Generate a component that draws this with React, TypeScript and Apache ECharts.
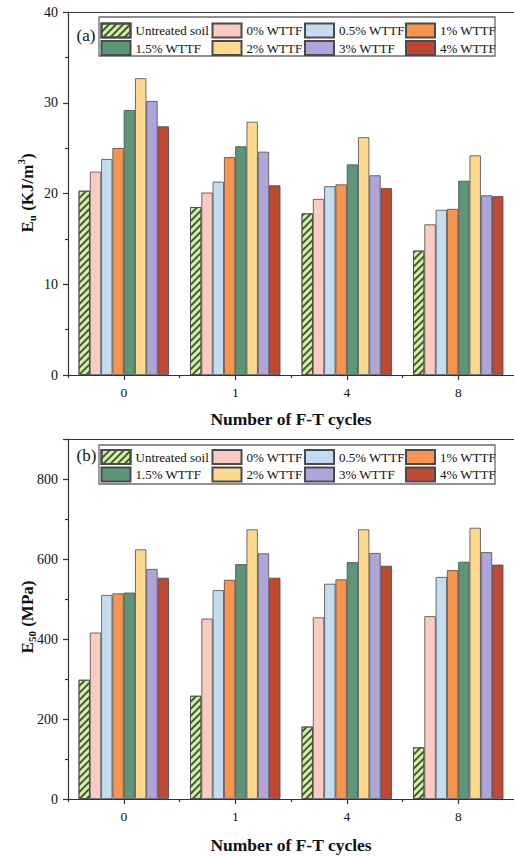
import React, { useEffect, useRef } from 'react';
import * as echarts from 'echarts';

const categories = ['0', '1', '4', '8'];
const seriesNames = [
  'Untreated soil', '0% WTTF', '0.5% WTTF', '1% WTTF',
  '1.5% WTTF', '2% WTTF', '3% WTTF', '4% WTTF',
];

// (a) Eu (KJ/m3)
const euUntreated = [20.3, 18.5, 17.8, 13.7];
const eu0 = [22.4, 20.1, 19.4, 16.6];
const eu05 = [23.8, 21.3, 20.8, 18.2];
const eu1 = [25.0, 24.0, 21.0, 18.3];
const eu15 = [29.2, 25.2, 23.2, 21.4];
const eu2 = [32.7, 27.9, 26.2, 24.2];
const eu3 = [30.2, 24.6, 22.0, 19.8];
const eu4 = [27.4, 20.9, 20.6, 19.7];

// (b) E50 (MPa)
const e50Untreated = [298, 258, 181, 129];
const e500 = [416, 451, 454, 457];
const e5005 = [510, 522, 538, 555];
const e501 = [514, 548, 549, 572];
const e5015 = [516, 587, 592, 593];
const e502 = [624, 674, 674, 678];
const e503 = [575, 614, 615, 617];
const e504 = [553, 553, 583, 586];

const euTicks = { min: 0, max: 40, interval: 10 };
const e50Ticks = { min: 0, max: 900, interval: 200 };

// y-axis titles: [text, kind] pieces (main / sub / sup)
const euTitle: [string, string][] = [['E', 'main'], ['u', 'sub'], [' (KJ/m', 'main'], ['3', 'sup'], [')', 'main']];
const e50Title: [string, string][] = [['E', 'main'], ['50', 'sub'], [' (MPa)', 'main']];

const euData = [euUntreated, eu0, eu05, eu1, eu15, eu2, eu3, eu4];
const e50Data = [e50Untreated, e500, e5005, e501, e5015, e502, e503, e504];

const colors = ['#d7edb2', '#f9cbc3', '#c4dcf0', '#f7944f', '#5e9579', '#fdd98e', '#afa5db', '#be4934'];

const FONT = "'Liberation Serif', 'Times New Roman', serif";
const AXIS_COLOR = '#333';
const TEXT_COLOR = '#111';

export default function App() {
  const ref = useRef<HTMLDivElement>(null);

  useEffect(() => {
    if (!ref.current) return;
    const chart = echarts.init(ref.current, undefined, { renderer: 'svg' });

    const hatch = {
      symbol: 'rect',
      symbolSize: 1,
      dashArrayX: [1, 0],
      dashArrayY: [2, 2.5],
      rotation: -Math.PI / 4,
      color: '#3f6125',
    };

    const grids = [
      { left: 68, top: 12, width: 448, height: 363 },
      { left: 68, top: 439, width: 448, height: 360 },
    ];

    const lineStyle = { color: AXIS_COLOR, width: 1.2 };

    const xAxes: any[] = [];
    grids.forEach((_, g) => {
      xAxes.push({
        type: 'category',
        gridIndex: g,
        data: categories,
        position: 'bottom',
        axisLine: { show: true, lineStyle },
        axisTick: { show: true, alignWithLabel: true, length: 5, lineStyle },
        axisLabel: { fontSize: 13.5, margin: 10, fontFamily: FONT, color: TEXT_COLOR },
        name: 'Number of F-T cycles',
        nameLocation: 'middle',
        nameGap: g === 0 ? 35 : 37,
        nameTextStyle: { fontSize: 17.5, fontWeight: 'bold', fontFamily: FONT, color: TEXT_COLOR },
      });
      xAxes.push({
        type: 'category',
        gridIndex: g,
        data: categories,
        position: 'bottom',
        axisLine: { show: false },
        axisTick: { show: true, alignWithLabel: false, length: 3, lineStyle },
        axisLabel: { show: false },
      });
      xAxes.push({
        type: 'category',
        gridIndex: g,
        data: categories,
        position: 'top',
        axisLine: { show: true, onZero: false, lineStyle },
        axisTick: { show: false },
        axisLabel: { show: false },
      });
    });

    const yAxisBase = (g: number, ticks: any) => ({
      type: 'value',
      gridIndex: g,
      min: ticks.min,
      max: ticks.max,
      interval: ticks.interval,
      axisLine: { show: true, lineStyle },
      axisTick: { show: true, length: 5, lineStyle },
      minorTick: { show: true, splitNumber: 2, length: 3, lineStyle },
      splitLine: { show: false },
      axisLabel: { fontSize: 14, margin: 10, fontFamily: FONT, color: TEXT_COLOR, showMaxLabel: g === 0 },
    });

    const series: any[] = [];
    [euData, e50Data].forEach((dataSet, g) => {
      dataSet.forEach((vals, i) => {
        series.push({
          type: 'bar',
          name: seriesNames[i],
          xAxisIndex: g * 3,
          yAxisIndex: g,
          data: vals,
          barGap: '0%',
          barCategoryGap: '19%',
          itemStyle: {
            color: colors[i],
            borderColor: '#4a4a4a',
            borderWidth: 0.8,
            ...(i === 0 ? { decal: hatch } : {}),
          },
        });
      });
    });

    const colLefts = [100.5, 211.5, 304, 405];
    const rowTops = [22.5, 449];
    const legends: any[] = [];
    rowTops.forEach((top) => {
      colLefts.forEach((left, c) => {
        legends.push({
          orient: 'vertical',
          left,
          top,
          padding: 0,
          itemWidth: 29,
          itemHeight: 14,
          itemGap: 1.5,
          icon: 'rect',
          selectedMode: false,
          textStyle: { fontSize: 13, fontFamily: FONT, color: TEXT_COLOR },
          data: [seriesNames[c], seriesNames[c + 4]],
        });
      });
    });

    // measure title pieces
    const ctx = document.createElement('canvas').getContext('2d');
    const pieceSize = (kind: string) => (kind === 'main' ? 17 : 11);
    const measure = (t: string, size: number) => {
      if (!ctx) return t.length * size * 0.5;
      ctx.font = `bold ${size}px ${FONT}`;
      return ctx.measureText(t).width;
    };
    const buildTitle = (pieces: [string, string][], cx: number, cy: number) => {
      const widths = pieces.map(([t, k]) => measure(t, pieceSize(k)));
      const total = widths.reduce((a, b) => a + b, 0);
      let x = -total / 2;
      const children: any[] = pieces.map(([t, k], i) => {
        const el = {
          type: 'text',
          x,
          y: k === 'sub' ? 5 : k === 'sup' ? -6 : 0,
          style: {
            text: t,
            fontSize: pieceSize(k),
            fontWeight: 'bold',
            fontFamily: FONT,
            fill: TEXT_COLOR,
            align: 'left',
            verticalAlign: 'middle',
          },
        };
        x += widths[i];
        return el;
      });
      return { type: 'group', x: cx, y: cy, rotation: Math.PI / 2, children, z: 2 };
    };

    const boxes = [
      { x: 99, y: 17, h: 39, label: '(a)', ly: 35, title: euTitle, ny: 193 },
      { x: 99, y: 445, h: 39, label: '(b)', ly: 455, title: e50Title, ny: 617 },
    ];
    const graphic: any[] = [];
    boxes.forEach((b) => {
      graphic.push({
        type: 'rect',
        shape: { x: b.x, y: b.y, width: 396, height: b.h },
        style: { fill: 'none', stroke: '#6b6b6b', lineWidth: 1.3 },
        z: 1,
      });
      graphic.push({
        type: 'text',
        x: 76.5,
        y: b.ly,
        style: { text: b.label, fontSize: 17, fontFamily: FONT, fill: TEXT_COLOR, verticalAlign: 'middle' },
        z: 2,
      });
      graphic.push(buildTitle(b.title, 27, b.ny));
    });

    chart.setOption({
      animation: false,
      backgroundColor: '#fff',
      grid: grids,
      xAxis: xAxes,
      yAxis: [yAxisBase(0, euTicks), yAxisBase(1, e50Ticks)],
      legend: legends,
      graphic,
      series,
    });

    return () => chart.dispose();
  }, []);

  return <div ref={ref} style={{ position: 'absolute', left: 0, top: 0, width: 514, height: 856 }} />;
}
